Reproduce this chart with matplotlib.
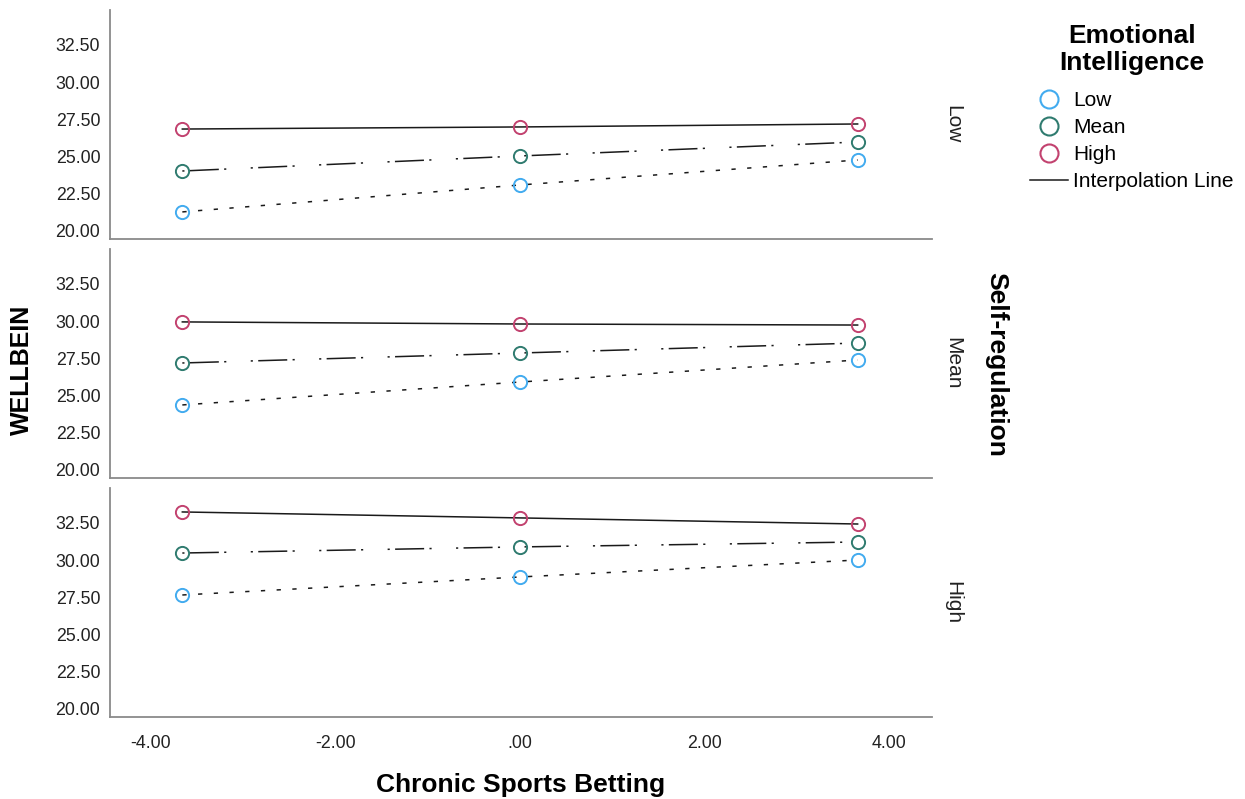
import numpy as np
import matplotlib.pyplot as plt
from matplotlib.lines import Line2D

plt.rcParams['font.family'] = ['Liberation Sans', 'DejaVu Sans']

# data
x_vals = [-3.66, 0.0, 3.66]
panel_names = ['Low', 'Mean', 'High']          # Self-regulation levels (rows)
ei_levels = ['Low', 'Mean', 'High']            # Emotional Intelligence levels (lines)

sr_low = {'Low': [21.28, 23.09, 24.77], 'Mean': [24.03, 25.04, 25.98], 'High': [26.85, 26.99, 27.19]}
sr_mean = {'Low': [24.37, 25.91, 27.39], 'Mean': [27.19, 27.86, 28.53], 'High': [29.95, 29.81, 29.74]}
sr_high = {'Low': [27.66, 28.87, 30.01], 'Mean': [30.48, 30.89, 31.22], 'High': [33.24, 32.84, 32.43]}
panels = [sr_low, sr_mean, sr_high]

y_ticks = [20, 22.5, 25, 27.5, 30, 32.5]
x_ticks = [-4, -2, 0, 2, 4]
x_ticklabels = ['-4.00', '-2.00', '.00', '2.00', '4.00']

colors = {'Low': '#42abef', 'Mean': '#2f7b6f', 'High': '#c2426f'}
dashes = {'Low': (2.8, 7.5), 'Mean': (1.4, 3.5, 19, 3.5, 1.4, 16), 'High': None}

fig = plt.figure(figsize=(12.45, 7.99), dpi=100)
left, width, height = 110/1245, 822/1245, 229/799
tops = [10, 249, 488]
spine_col = '#8a8a8a'

for i, (data, name) in enumerate(zip(panels, panel_names)):
    bottom = 1 - (tops[i] + 229)/799
    ax = fig.add_axes([left, bottom, width, height])
    for lev in ei_levels:
        if dashes[lev] is None:
            ax.plot(x_vals, data[lev], color='#1a1a1a', lw=1.1, zorder=2)
        else:
            ax.plot(x_vals, data[lev], color='#1a1a1a', lw=1.1, dashes=dashes[lev], zorder=2)
        ax.plot(x_vals, data[lev], ls='none', marker='o', ms=9.5, mfc='none',
                mec=colors[lev], mew=1.4, zorder=3)
    ax.set_xlim(-4.444, 4.466)
    ax.set_ylim(19.46, 34.85)
    ax.set_yticks(y_ticks)
    ax.set_yticklabels(['%.2f' % v for v in y_ticks])
    ax.set_xticks(x_ticks)
    if i == 2:
        ax.set_xticklabels(x_ticklabels)
    else:
        ax.set_xticklabels([])
    ax.tick_params(length=0, labelsize=12.8, colors='#222222', pad=7)
    ax.tick_params(axis='x', pad=13)
    for s in ['top', 'right']:
        ax.spines[s].set_visible(False)
    for s in ['left', 'bottom']:
        ax.spines[s].set_color(spine_col)
        ax.spines[s].set_linewidth(1.3)
    ax.text(1.025, 0.5, name, transform=ax.transAxes, rotation=270,
            ha='center', va='center', fontsize=15, color='#222222')

fig.text(22/1245, 1 - 370/799, 'WELLBEIN', rotation=90, ha='center', va='center',
         fontsize=18, fontweight='bold')
fig.text(996/1245, 1 - 364/799, 'Self-regulation', rotation=270, ha='center', va='center',
         fontsize=19, fontweight='bold')
fig.text(521/1245, 1 - 785/799, 'Chronic Sports Betting', ha='center', va='center',
         fontsize=19, fontweight='bold')

# legend title drawn as two lines of text, entries as a legend below it
fig.text(1132/1245, 1 - 36/799, 'Emotional', ha='center', va='center',
         fontsize=19, fontweight='bold')
fig.text(1132/1245, 1 - 63/799, 'Intelligence', ha='center', va='center',
         fontsize=19, fontweight='bold')

handles = [Line2D([], [], ls='none', marker='o', ms=13, mfc='none', mec=colors[l], mew=1.5)
           for l in ei_levels]
handles.append(Line2D([], [], color='#1a1a1a', lw=1.1))
labels = ei_levels + ['Interpolation Line']
leg = fig.legend(handles, labels, loc='upper left', bbox_to_anchor=(1030/1245, 1 - 91/799),
                 frameon=False, fontsize=15,
                 handlelength=1.83, handletextpad=0.25, labelspacing=0.39,
                 borderpad=0, borderaxespad=0)

fig.savefig('out.png', dpi=100)
